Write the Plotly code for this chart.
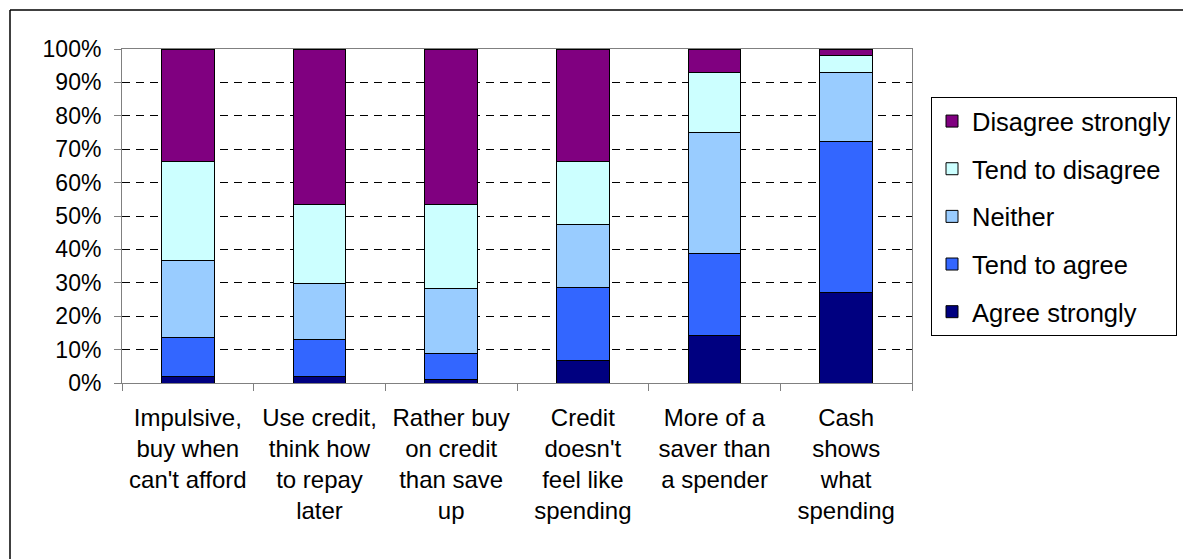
import plotly.graph_objects as go

categories = [
    "Impulsive,<br>buy when<br>can't afford",
    "Use credit,<br>think how<br>to repay<br>later",
    "Rather buy<br>on credit<br>than save<br>up",
    "Credit<br>doesn't<br>feel like<br>spending",
    "More of a<br>saver than<br>a spender",
    "Cash<br>shows<br>what<br>spending",
]

agree_strongly = [2.0, 2.0, 1.0, 6.7, 14.2, 27.2]
tend_to_agree = [11.5, 11.0, 7.9, 21.9, 24.6, 45.1]
neither = [23.1, 16.8, 19.4, 19.0, 36.1, 20.8]
tend_to_disagree = [29.8, 23.6, 25.1, 18.8, 18.2, 4.9]
disagree_strongly = [33.6, 46.6, 46.6, 33.6, 6.9, 2.0]

series_names = ["Agree strongly", "Tend to agree", "Neither", "Tend to disagree", "Disagree strongly"]
series_values = [agree_strongly, tend_to_agree, neither, tend_to_disagree, disagree_strongly]
series_colors = ["#000080", "#3366FF", "#99CCFF", "#CCFFFF", "#800080"]

y_ticks = [0, 10, 20, 30, 40, 50, 60, 70, 80, 90, 100]
y_tick_labels = [f"{v}%" for v in y_ticks]

FONT = "Liberation Sans, Arial, sans-serif"

fig = go.Figure()
n = len(series_names)
for i, (name, vals, col) in enumerate(zip(series_names, series_values, series_colors)):
    fig.add_trace(go.Bar(
        x=categories, y=vals, name=name, legendgroup=name,
        legendrank=1000 + (n - i),
        marker=dict(color=col, line=dict(color="black", width=1)),
        width=0.4,
    ))

# page body offset of 8px is compensated in the margins
OFF = 8
W, H = 1191, 559
L, R, T, B = 122 - OFF, 1191 - 912 + OFF, 49 - OFF, 559 - 383 + OFF
pw, ph = W - L - R, H - T - B

def px_x(p):
    return (p - OFF - L) / pw

def px_y(p):
    return (H - B - (p - OFF)) / ph

fig.update_layout(
    width=W, height=H,
    margin=dict(l=L, r=R, t=T, b=B, pad=0),
    barmode="stack",
    paper_bgcolor="white", plot_bgcolor="white",
    font=dict(family=FONT, size=24, color="black"),
    showlegend=True,
    legend=dict(
        x=px_x(931), y=px_y(97), xanchor="left", yanchor="top",
        bordercolor="black", borderwidth=1, bgcolor="white",
        font=dict(family=FONT, size=25.5, color="black"),
        traceorder="grouped", tracegroupgap=11.5,
    ),
    xaxis=dict(
        showline=True, linecolor="#808080", linewidth=1, mirror=True,
        ticks="outside", tickson="boundaries", ticklen=7, tickcolor="#808080",
        showgrid=False, tickfont=dict(family=FONT, size=24, color="black"),
        ticklabelstandoff=13,
    ),
    yaxis=dict(
        range=[0, 100], tickvals=y_ticks, ticktext=y_tick_labels,
        showline=True, linecolor="#808080", linewidth=1, mirror=True,
        ticks="outside", ticklen=7, tickcolor="#808080",
        showgrid=True, gridcolor="black", gridwidth=1, griddash="8px,6px",
        tickfont=dict(family=FONT, size=23, color="black"),
        ticklabelstandoff=8,
        zeroline=False,
    ),
    shapes=[
        dict(type="line", xref="paper", yref="paper",
             x0=px_x(10), x1=px_x(1300), y0=px_y(10), y1=px_y(10),
             line=dict(color="black", width=1.5)),
        dict(type="line", xref="paper", yref="paper",
             x0=px_x(10), x1=px_x(10), y0=px_y(10), y1=px_y(700),
             line=dict(color="black", width=1.5)),
    ],
)

fig.write_html("out.html")
